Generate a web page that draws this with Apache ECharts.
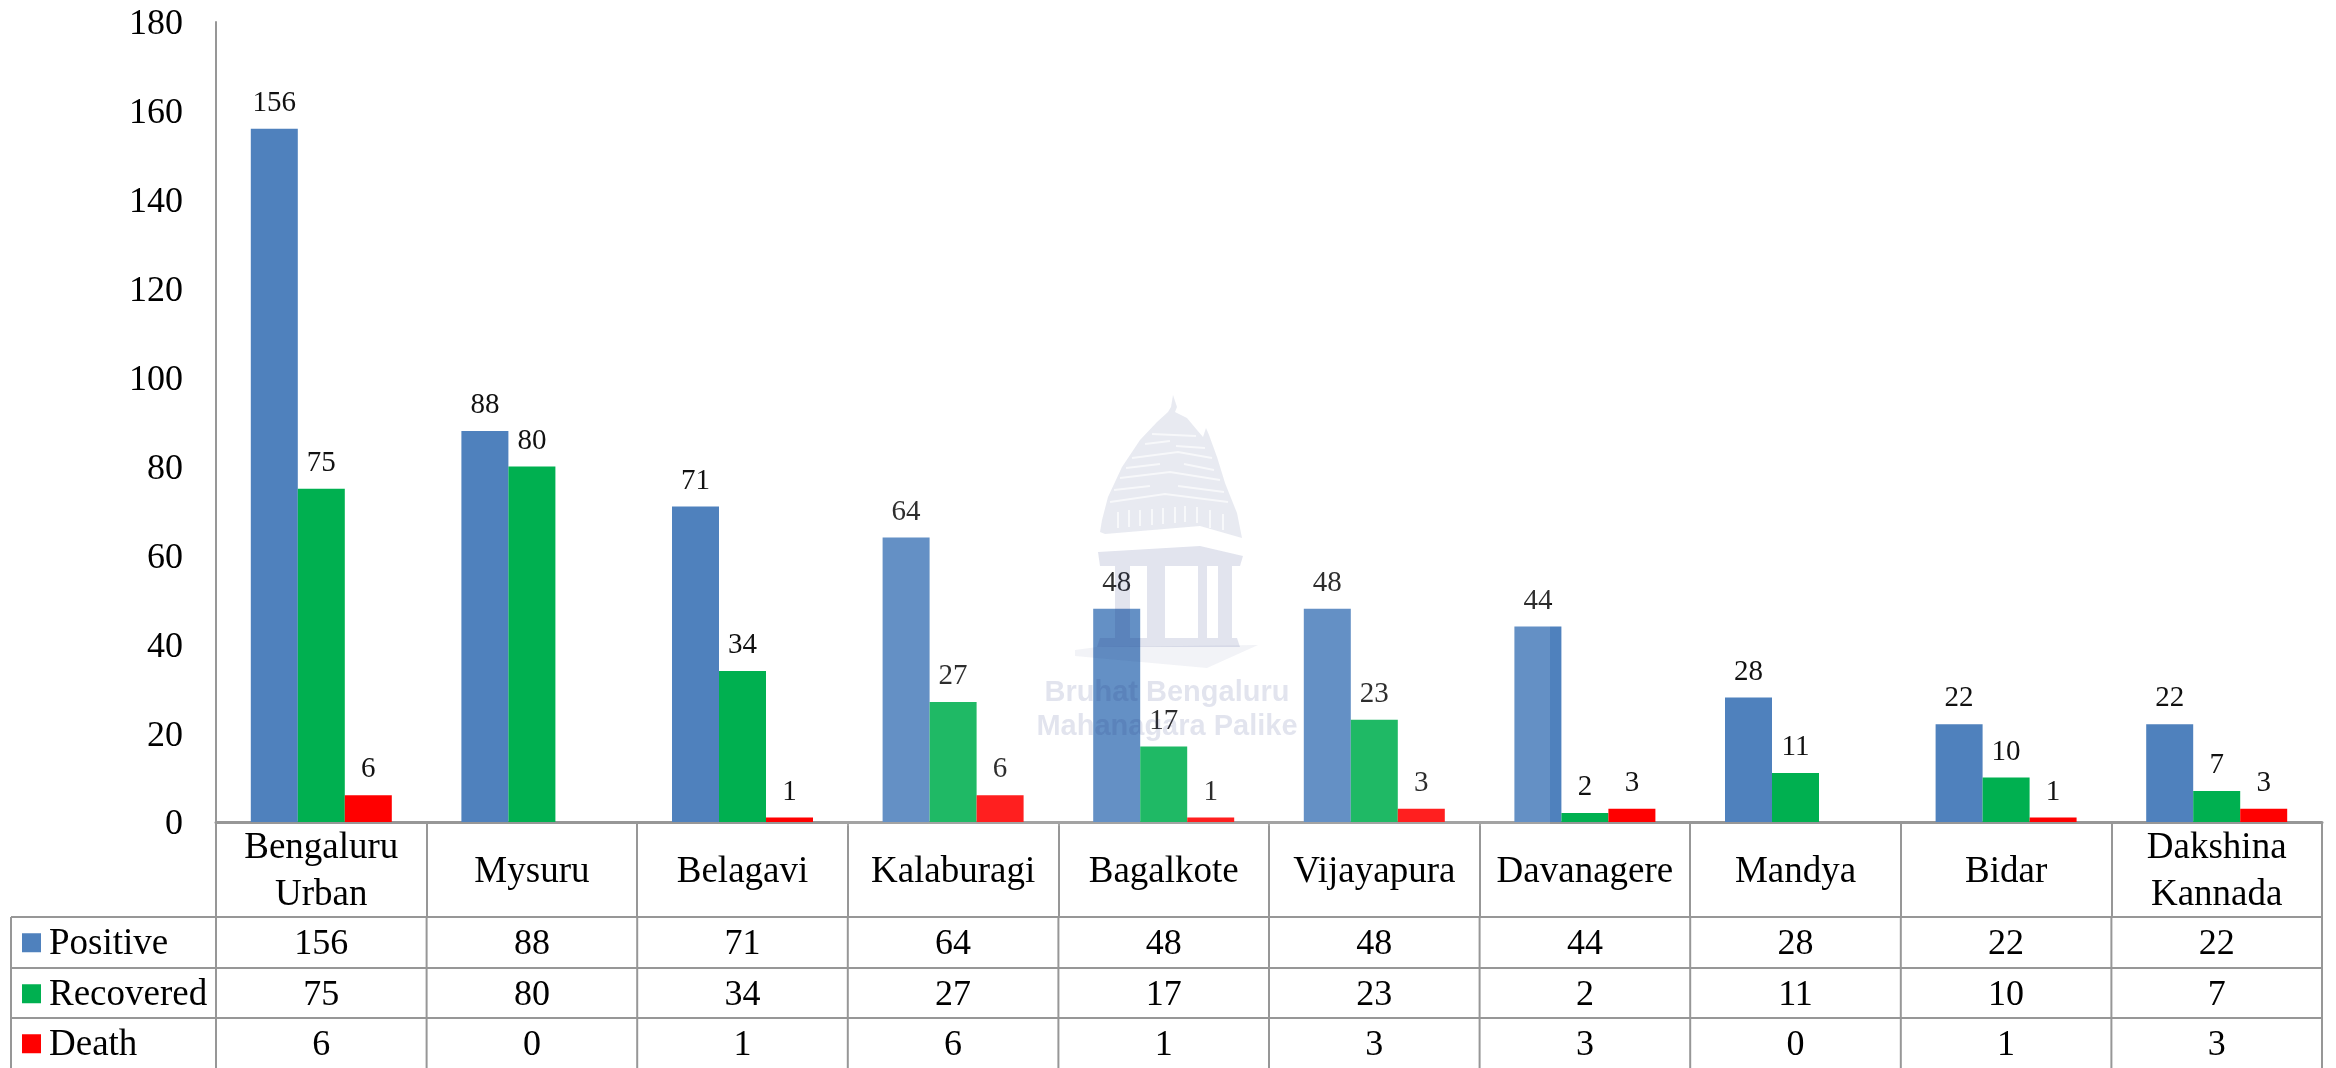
<!DOCTYPE html>
<html>
<head>
<meta charset="utf-8">
<style>
  html, body { margin: 0; padding: 0; background: #fff; }
  #chart { width: 2336px; height: 1068px; }
</style>
</head>
<body>
<div id="chart"></div>
<script src="https://cdn.jsdelivr.net/npm/echarts@6/dist/echarts.min.js"></script>
<script>
var categories = ["Bengaluru\nUrban", "Mysuru", "Belagavi", "Kalaburagi", "Bagalkote", "Vijayapura", "Davanagere", "Mandya", "Bidar", "Dakshina\nKannada"];
var positive = [156, 88, 71, 64, 48, 48, 44, 28, 22, 22];
var recovered = [75, 80, 34, 27, 17, 23, 2, 11, 10, 7];
var death = [6, 0, 1, 6, 1, 3, 3, 0, 1, 3];
var yTicks = [0, 20, 40, 60, 80, 100, 120, 140, 160, 180];

var serif = "Liberation Serif";
var lineColor = "#979797";
var marksColor = "rgba(30,50,120,0.13)";

function seriesOf(name, values, color) {
  return {
    name: name,
    type: "bar",
    data: values,
    barWidth: 47,
    barGap: 0,
    itemStyle: { color: color },
    label: {
      show: true,
      position: "top",
      distance: 11,
      fontFamily: serif,
      fontSize: 29,
      color: "#111",
      // the original has no label on empty bars
      formatter: function (p) { return p.value === 0 ? "" : p.value; }
    }
  };
}

var rows = [
  { name: "Positive", values: positive, color: "#4F81BD" },
  { name: "Recovered", values: recovered, color: "#00B050" },
  { name: "Death", values: death, color: "#FF0000" }
];

var chart = echarts.init(document.getElementById("chart"));

chart.setOption({
  animation: false,
  backgroundColor: "#fff",
  grid: { left: 216, right: 14, top: 22, bottom: 246 },
  xAxis: {
    type: "category",
    data: categories,
    axisLine: { lineStyle: { color: lineColor, width: 3 } },
    axisTick: { show: true, interval: 0, length: 95, lineStyle: { color: lineColor, width: 2 } },
    axisLabel: {
      interval: 0,
      margin: 50,
      verticalAlign: "middle",
      fontFamily: serif,
      fontSize: 37,
      lineHeight: 47,
      color: "#000"
    }
  },
  yAxis: {
    type: "value",
    min: 0,
    max: 180,
    interval: 20,
    splitLine: { show: false },
    axisTick: { show: false },
    axisLine: { show: true, lineStyle: { color: lineColor, width: 2 } },
    axisLabel: {
      margin: 33,
      // small top-aligned line box pushes the digits a few px below the tick
      verticalAlign: "top",
      lineHeight: 6,
      fontFamily: serif,
      fontSize: 36,
      color: "#000",
      formatter: function (v) { return yTicks.indexOf(v) >= 0 ? String(v) : ""; }
    }
  },
  series: rows.map(function (r) { return seriesOf(r.name, r.values, r.color); })
});

// data table under the plot, placed from the category axis
function tableGraphics() {
  var out = [];
  var x0 = chart.convertToPixel({ xAxisIndex: 0 }, 0);
  var x1 = chart.convertToPixel({ xAxisIndex: 0 }, 1);
  var cell = x1 - x0;
  var axisLeft = x0 - cell / 2;
  var tableRight = axisLeft + cell * categories.length;
  var rowTops = [917, 968, 1018];
  var rowHeight = 50.5;
  var bottom = 1068;

  function line(xa, ya, xb, yb) {
    out.push({
      type: "line",
      shape: { x1: xa, y1: ya, x2: xb, y2: yb },
      style: { stroke: lineColor, lineWidth: 2 }
    });
  }
  function label(text, x, y, align, size) {
    out.push({
      type: "text",
      x: x,
      y: y,
      style: { text: text, fontFamily: serif, fontSize: size, fill: "#000", align: align, verticalAlign: "middle" }
    });
  }

  rowTops.forEach(function (y) { line(11, y, tableRight, y); });
  line(11, rowTops[0], 11, bottom);
  for (var c = 0; c <= categories.length; c++) {
    line(axisLeft + c * cell, rowTops[0], axisLeft + c * cell, bottom);
  }

  rows.forEach(function (r, i) {
    var mid = rowTops[i] + rowHeight / 2 + 2;
    out.push({
      type: "rect",
      shape: { x: 22, y: mid - 11, width: 19, height: 19 },
      style: { fill: r.color }
    });
    label(r.name, 49, mid, "left", 37);
    r.values.forEach(function (v, k) {
      label(String(v), chart.convertToPixel({ xAxisIndex: 0 }, k), mid, "center", 36);
    });
  });
  return out;
}

// pale temple logo and caption laid over the middle of the plot
function watermark() {
  var out = [];
  function poly(points, fill) {
    out.push({ type: "polygon", z: 100, shape: { points: points }, style: { fill: fill || marksColor } });
  }
  function whiteLine(points) {
    out.push({
      type: "polyline", z: 101, shape: { points: points },
      style: { stroke: "rgba(255,255,255,0.65)", lineWidth: 2, fill: null }
    });
  }
  function caption(text, y) {
    out.push({
      type: "text", z: 100, x: 1167, y: y,
      style: {
        text: text, fontFamily: "Liberation Sans", fontWeight: "bold", fontSize: 29,
        fill: marksColor, align: "center", verticalAlign: "middle"
      }
    });
  }

  // veil of the scanned logo, it lightens whatever sits under it
  out.push({
    type: "rect", z: 99,
    shape: { x: 830, y: 390, width: 720, height: 436 },
    style: { fill: "rgba(255,255,255,0.12)" }
  });

  poly([[1173, 395], [1177, 407], [1175, 412], [1187, 418], [1197, 430], [1203, 437], [1206, 428], [1209, 435],
    [1217, 457], [1225, 483], [1237, 513], [1242, 538], [1200, 526], [1105, 534], [1100, 532], [1102, 520],
    [1108, 497], [1122, 467], [1140, 440], [1157, 422], [1168, 412], [1171, 407]], "rgba(30,50,120,0.10)");
  whiteLine([[1152, 434], [1196, 436]]);
  whiteLine([[1145, 444], [1170, 441]]);
  whiteLine([[1176, 446], [1205, 448]]);
  whiteLine([[1132, 458], [1178, 452], [1212, 458]]);
  whiteLine([[1126, 468], [1160, 464]]);
  whiteLine([[1184, 464], [1214, 470]]);
  whiteLine([[1120, 478], [1170, 472], [1220, 480]]);
  whiteLine([[1114, 490], [1150, 486]]);
  whiteLine([[1178, 486], [1224, 492]]);
  whiteLine([[1110, 502], [1165, 494], [1228, 502]]);
  whiteLine([[1118, 512], [1118, 528]]);
  whiteLine([[1129, 510], [1129, 527]]);
  whiteLine([[1140, 510], [1140, 526]]);
  whiteLine([[1152, 509], [1152, 525]]);
  whiteLine([[1163, 508], [1163, 524]]);
  whiteLine([[1175, 507], [1175, 523]]);
  whiteLine([[1185, 506], [1185, 522]]);
  whiteLine([[1197, 507], [1197, 523]]);
  whiteLine([[1210, 510], [1210, 528]]);
  whiteLine([[1223, 514], [1223, 530]]);

  poly([[1098, 552], [1200, 546], [1243, 556], [1240, 566], [1100, 566]]);
  poly([[1115, 566], [1130, 566], [1130, 638], [1115, 638]]);
  poly([[1147, 566], [1165, 566], [1165, 638], [1147, 638]]);
  poly([[1198, 566], [1207, 566], [1207, 638], [1198, 638]]);
  poly([[1218, 566], [1232, 566], [1232, 638], [1218, 638]]);
  poly([[1100, 638], [1237, 638], [1240, 647], [1097, 647]]);
  poly([[1075, 650], [1097, 647], [1258, 645], [1207, 668], [1075, 656]], "rgba(30,50,120,0.06)");

  caption("Bruhat Bengaluru", 693);
  caption("Mahanagara Palike", 727);
  return out;
}

chart.setOption({ graphic: tableGraphics().concat(watermark()) });
</script>
</body>
</html>
